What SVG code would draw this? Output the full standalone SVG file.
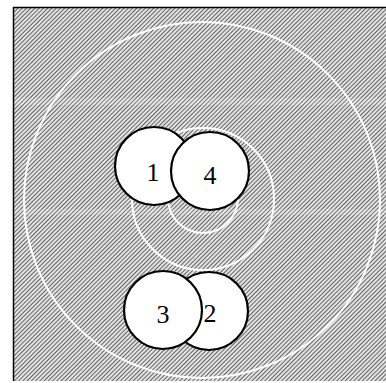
<svg xmlns="http://www.w3.org/2000/svg" width="386" height="383" viewBox="0 0 386 383">
<defs>
<pattern id="hatch" width="3" height="3" patternUnits="userSpaceOnUse" patternTransform="rotate(45)">
<rect width="3" height="3" fill="#e2e2e2"/>
<rect width="1" height="3" fill="#666"/>
</pattern>
<style>
.ring{fill:none;stroke:#fff;stroke-width:2}
.node circle{fill:#fff;stroke:#000;stroke-width:2.2}
.node text{font-family:"Liberation Serif",serif;font-size:26px;text-anchor:middle;fill:#000}
.band{fill:#fff;opacity:0.15}
</style>
</defs>
<rect width="386" height="383" fill="#fff"/>
<rect x="13" y="7" width="373" height="374" fill="url(#hatch)"/>
<rect class="band" x="13" y="98" width="373" height="7"/>
<rect class="band" x="13" y="209" width="373" height="6"/>
<path d="M13.5 381 V7.5 H386" fill="none" stroke="#000" stroke-width="1.5"/>
<g id="rings">
<circle class="ring" cx="202" cy="200" r="178"/>
<circle class="ring" cx="203" cy="199" r="71"/>
<circle class="ring" cx="203" cy="198" r="35"/>
</g>
<g id="connectors"></g>
<g id="node1" class="node"><circle cx="154" cy="166" r="39"/><text x="153" y="181">1</text></g>
<g id="node4" class="node"><circle cx="210" cy="171" r="39"/><text x="210" y="184">4</text></g>
<g id="node2" class="node"><circle cx="209" cy="311" r="39"/><text x="210" y="322">2</text></g>
<g id="node3" class="node"><circle cx="163" cy="310" r="39"/><text x="163" y="323">3</text></g>
</svg>
